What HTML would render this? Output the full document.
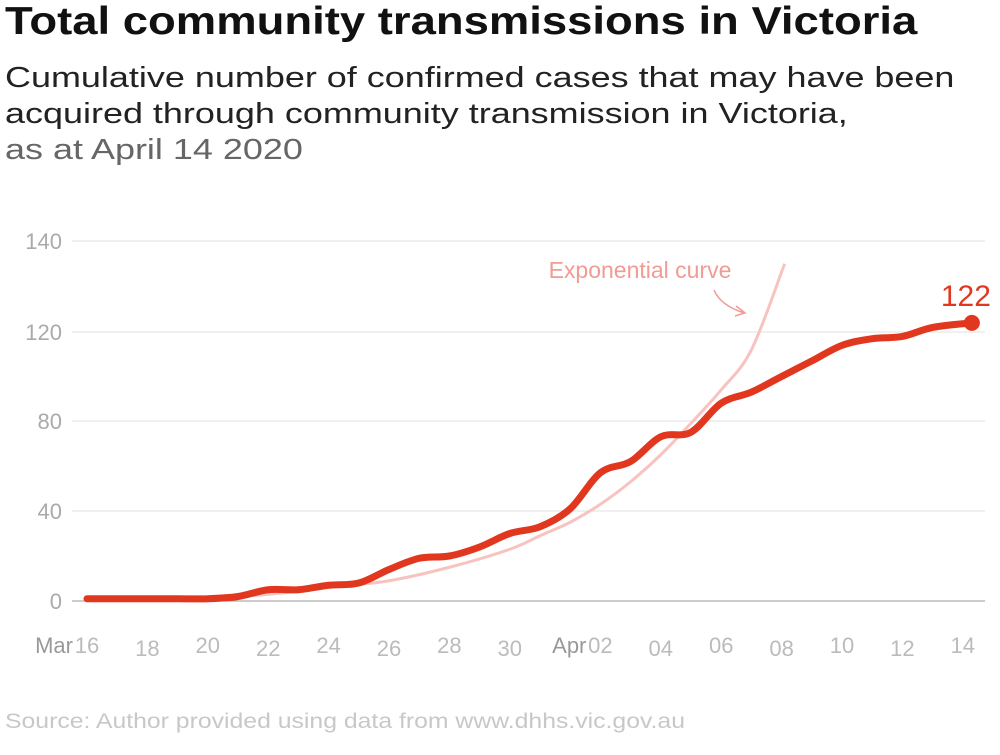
<!DOCTYPE html>
<html><head><meta charset="utf-8"><style>
body{margin:0;background:#fff;width:1000px;height:755px;overflow:hidden;font-family:"Liberation Sans","DejaVu Sans",sans-serif}
#title{position:absolute;left:5px;top:0;font-size:39px;font-weight:bold;color:#111;transform:scaleX(1.165);transform-origin:0 0;white-space:nowrap}
#sub{position:absolute;left:5px;top:60px;font-size:29px;line-height:36px;color:#222;transform:scaleX(1.24);transform-origin:0 0;white-space:nowrap}
#sub span{color:#666}
#src{position:absolute;left:5px;top:710px;font-size:21px;color:#c8c8c8;transform:scaleX(1.18);transform-origin:0 0;white-space:nowrap}
svg{position:absolute;left:0;top:0}
</style></head><body>
<div id="title">Total community transmissions in Victoria</div>
<div id="sub">Cumulative number of confirmed cases that may have been<br>acquired through community transmission in Victoria,<br><span>as at April 14 2020</span></div>
<svg id="chart" width="1000" height="755"></svg>
<div id="src">Source: Author provided using data from www.dhhs.vic.gov.au</div>
<script>
const days=[0,1,2,3,4,5,6,7,8,9,10,11,12,13,14,15,16,17,18,19,20,21,22,23,24,25,26,27,28,29.3];
const cases=[1,1,1,1,1,2,5,5,7,8,14,19,20,24,30,33,41,57,62,73,75,88,93,100,107,114,117,118,121,122];
const expDays=[4,6,8,10,12,14,15,16,17,18,19,20,21,22,23.1];
const expVals=[1,3,6,9,15,23,29,35,43,53,65,79,94,112,135];
const yTicks=[0,40,80,120,140];
const xLabelDays=[0,2,4,6,8,10,12,14,17,19,21,23,25,27,29];
const xLabels=["16","18","20","22","24","26","28","30","02","04","06","08","10","12","14"];
const tickY=[601,511,421,332,241];
function y(v){for(let i=0;i<yTicks.length-1;i++){if(v<=yTicks[i+1]||i==yTicks.length-2){return tickY[i]+(v-yTicks[i])/(yTicks[i+1]-yTicks[i])*(tickY[i+1]-tickY[i]);}}}
function x(d){return 87+d*30.2;}
const s=document.getElementById('chart');const NS="http://www.w3.org/2000/svg";
function el(t,a,p){const e=document.createElementNS(NS,t);for(const k in a)e.setAttribute(k,a[k]);(p||s).appendChild(e);return e;}
yTicks.forEach((v,i)=>{
 const g=el('line',{x1:72,x2:985,y1:y(v),y2:y(v),stroke:i==0?'#999':'#e2e2e2','stroke-width':1});
 
 
 const t=el('text',{x:62,y:y(v)+8,'text-anchor':'end','font-size':22,fill:'#aaa'});t.textContent=v;
 
 
});
xLabels.forEach((l,i)=>{
 const d=xLabelDays[i],yy=(i%2==0)?653:656;
 const t=el('text',{x:x(d),y:yy,'text-anchor':'middle','font-size':22,fill:'#bbb'});t.textContent=l;
 
 
});
[["Mar",x(0)-14],["Apr",x(17)-14]].forEach(m=>{const t=el('text',{x:m[1],y:653,'text-anchor':'end','font-size':22,fill:'#999'});t.textContent=m[0];
 
 });
function path(ds,vs){const P=ds.map((d,i)=>[x(d),y(vs[i])]);let p='M'+P[0][0]+','+P[0][1];
 for(let i=0;i<P.length-1;i++){const p0=P[Math.max(0,i-1)],p1=P[i],p2=P[i+1],p3=P[Math.min(P.length-1,i+2)];
  const c1=[p1[0]+(p2[0]-p0[0])/6,p1[1]+(p2[1]-p0[1])/6],c2=[p2[0]-(p3[0]-p1[0])/6,p2[1]-(p3[1]-p1[1])/6];
  p+=' C'+c1+' '+c2+' '+p2;}return p;}
const ep=el('path',{d:path(expDays,expVals),fill:'none',stroke:'#f8c3bf','stroke-width':3});


const lp=el('path',{d:path(days,cases),fill:'none',stroke:'#e2371f','stroke-width':7,'stroke-linecap':'round','stroke-linejoin':'round'});


const last=days.length-1;
const dot=el('circle',{cx:x(days[last]),cy:y(cases[last]),r:8,fill:'#e2371f'});


const lv=el('text',{x:x(days[last])-6,y:y(cases[last])-17,'text-anchor':'middle','font-size':30,fill:'#e2371f'});lv.textContent=cases[last];


const et=el('text',{x:640,y:278,'text-anchor':'middle','font-size':23,fill:'#f09b94'});et.textContent='Exponential curve';


const ar=el('path',{d:'M714,290 Q720,305 744,313 M736,306 L745,313 L735,316',fill:'none',stroke:'#f09b94','stroke-width':1.5});


</script>
</body></html>
